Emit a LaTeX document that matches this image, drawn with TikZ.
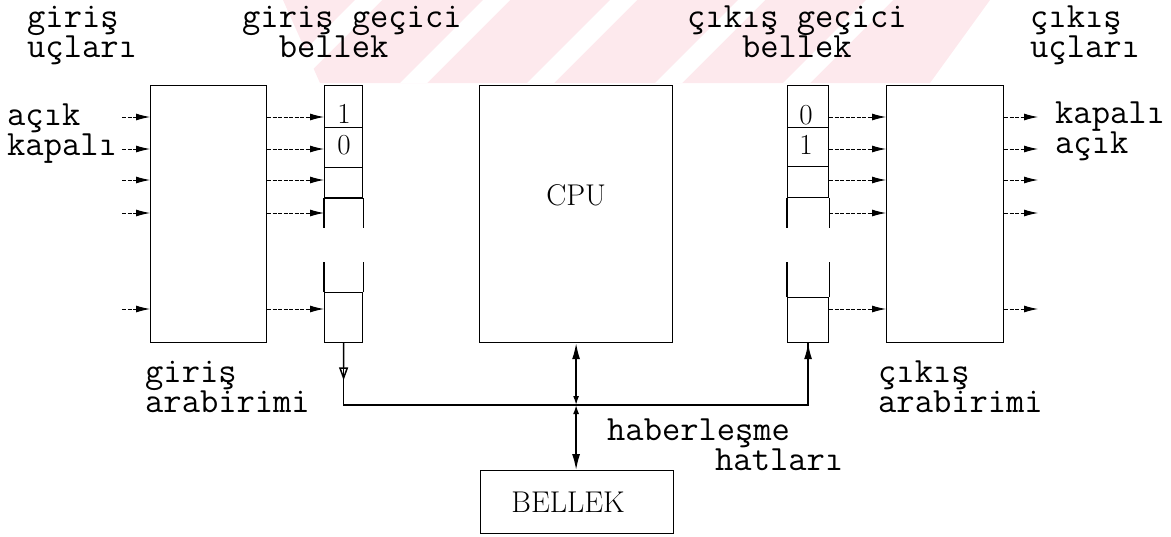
\documentclass[tikz,border=0pt]{standalone}
\usepackage{fontspec}
\usetikzlibrary{arrows.meta,calc}
\definecolor{wmpink}{RGB}{253,233,237}
\tikzset{
  lbl/.style={font=\ttfamily\fontsize{35.5}{30}\selectfont, anchor=base west, inner sep=0pt, align=left},
  rmtxt/.style={font=\rmfamily\fontsize{30}{30}\selectfont, inner sep=0pt},
  dig/.style={font=\rmfamily\fontsize{29}{29}\selectfont, anchor=base, inner sep=0pt},
  box/.style={draw, line width=1.2pt, anchor=north west, inner sep=0pt},
  cell/.style={draw, line width=1.2pt, anchor=north west, inner sep=0pt, minimum width=38pt},
  frame/.style={line width=1.2pt},
  conn/.style={line width=0.9pt, dash pattern=on 4pt off 1.5pt},
  tip/.style={-{Latex[length=14pt,width=7pt]}},
  busline/.style={line width=1.5pt},
}
\begin{document}
\begin{tikzpicture}[x=1pt,y=-1pt]
\useasboundingbox (0,0) rectangle (1171,536);
% faint watermark
\fill[wmpink] (283,0) -- (990,0) -- (930,83) -- (320,83) -- cycle;
\foreach \b in {272,400,527,655,783} {
  \fill[white] (\b,83) -- (\b+27,83) -- (\b+110,0) -- (\b+83,0) -- cycle;
}
% labels (anchor = baseline of the last line)
\node[lbl] (l1) at (27,57) {giriş\\uçları};
\node[lbl] (l3) at (242,57) {giriş geçici\\\phantom{gi}bellek};
\node[lbl] (l5) at (687,57) {çıkış geçici\\\phantom{çık}bellek};
\node[lbl] (l7) at (1030,57) {çıkış\\uçları};
\node[lbl] (la) at (7,155) {açık\\kapalı};
\node[lbl] (rk) at (1055,153) {kapalı\\açık};
\node[lbl] (ga) at (145,412) {giriş\\arabirimi};
\node[lbl] (ca) at (878,412) {çıkış\\arabirimi};
\node[lbl] (hb) at (607,470) {haberleşme\\\hspace*{108pt}hatları};
% main boxes
\node[box, minimum width=116pt, minimum height=257pt] (inif) at (150,85) {};
\node[box, minimum width=193pt, minimum height=257pt] (cpu) at (479,85) {};
\node[rmtxt] at ($(cpu.north)+(0,110)$) {CPU};
\node[box, minimum width=193pt, minimum height=63pt] (bellek) at (480,470) {};
\node[rmtxt] at ($(bellek.center)+(-9,0)$) {BELLEK};
\node[box, minimum width=117pt, minimum height=257pt] (outif) at (886,85) {};
% input buffer
\node[cell, minimum height=42pt] (ib1) at (324,85) {};
\node[cell, minimum height=40pt] (ib2) at (324,127) {};
\node[cell, minimum height=30pt] (ib3) at (324,167) {};
\node[cell, minimum height=50pt] (ib5) at (324,292) {};
\draw[frame] (ib3.south west) -- ++(0,30) (ib3.south east) -- ++(0,30);
\draw[frame] (ib5.north west) -- ++(0,-30) (ib5.north east) -- ++(0,-30);
\draw[line width=1.8pt] (ib3.south west) -- (ib3.south east);
\node[dig] at (344,123) {1};
\node[dig] at (344,154) {0};
% output buffer
\node[cell, minimum height=42pt, minimum width=41pt] (ob1) at (787,85) {};
\node[cell, minimum height=39pt, minimum width=41pt] (ob2) at (787,127) {};
\node[cell, minimum height=31pt, minimum width=41pt] (ob3) at (787,166) {};
\node[cell, minimum height=45pt, minimum width=41pt] (ob5) at (787,297) {};
\draw[frame] (ob3.south west) -- ++(0,30) (ob3.south east) -- ++(0,30);
\draw[frame] (ob5.north west) -- ++(0,-35) (ob5.north east) -- ++(0,-35);
\node[dig] at (806,124) {0};
\node[dig] at (806,154) {1};
% rows of connectors
\foreach \y [count=\i] in {117,149,180,213,309} {
  \coordinate (r\i) at (0,\y);
  \coordinate (lin\i) at (122,\y);
  \coordinate (rout\i) at (1038,\y);
  \draw[conn,tip] (lin\i) -- (inif.west |- r\i);
  \draw[conn,tip] (inif.east |- r\i) -- (ib1.west |- r\i);
  \draw[conn,tip] (ob1.east |- r\i) -- (outif.west |- r\i);
  \draw[conn,tip] (outif.east |- r\i) -- (rout\i);
}
% bus
\coordinate (bus) at (0,405);
\coordinate (j1) at (ib5.south |- bus);
\coordinate (jc) at (cpu.south |- bus);
\coordinate (j3) at (ob5.south |- bus);
\draw[busline] (ib5.south) -- (j1) -- (j3) -- (ob5.south);
\draw[busline, -{Triangle[open, length=13pt, width=9pt]}] (ib5.south) -- ($(ib5.south)!0.6!(j1)$);
\draw[busline, -{Latex[length=16pt,width=8pt]}] (j3) -- (ob5.south);
\draw[busline, {Latex[length=16pt,width=8pt]}-{Latex[length=9pt,width=6pt]}] (cpu.south) -- (jc);
\draw[busline, {Latex[length=9pt,width=6pt]}-{Latex[length=16pt,width=8pt]}] (jc) -- (jc |- bellek.north);
\end{tikzpicture}
\end{document}
